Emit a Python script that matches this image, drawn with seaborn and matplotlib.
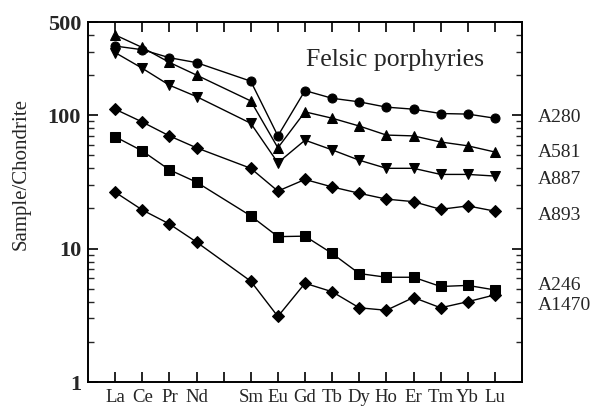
import matplotlib
matplotlib.use("Agg")
import matplotlib.pyplot as plt
import seaborn as sns
import pandas as pd
from matplotlib.ticker import FixedLocator, NullFormatter

# REE series, Pm kept for spacing but not plotted
ree_all = ['La', 'Ce', 'Pr', 'Nd', 'Pm', 'Sm', 'Eu', 'Gd', 'Tb', 'Dy', 'Ho', 'Er', 'Tm', 'Yb', 'Lu']
elements = ['La', 'Ce', 'Pr', 'Nd', 'Sm', 'Eu', 'Gd', 'Tb', 'Dy', 'Ho', 'Er', 'Tm', 'Yb', 'Lu']

a280 = [330, 310, 270, 248, 180, 70, 153, 134, 126, 115, 111, 103, 102, 95]
a581 = [400, 322, 249, 200, 128, 57, 106, 95, 83, 71, 70, 63, 59, 53]
a887 = [295, 225, 168, 138, 87, 44, 65, 55, 46, 40, 40, 36, 36, 35]
a893 = [111, 89, 70, 57, 40, 27, 33, 29, 26, 23.5, 22.5, 19.7, 20.9, 19.1]
a246 = [69, 54, 39, 31.5, 17.6, 12.3, 12.4, 9.2, 6.5, 6.1, 6.1, 5.2, 5.3, 4.9]
a1470 = [26.5, 19.5, 15.3, 11.2, 5.7, 3.1, 5.5, 4.75, 3.6, 3.45, 4.3, 3.6, 4.0, 4.5]

samples = ['A280', 'A581', 'A887', 'A893', 'A246', 'A1470']
values = [a280, a581, a887, a893, a246, a1470]
marker_map = {'A280': 'o', 'A581': '^', 'A887': 'v', 'A893': 'D', 'A246': 's', 'A1470': 'D'}
# where the sample names sit on the right (in data units)
label_y = {'A280': 96, 'A581': 53, 'A887': 33, 'A893': 17.6, 'A246': 5.3, 'A1470': 3.75}

rows = []
for name, vals in zip(samples, values):
    for el, v in zip(elements, vals):
        rows.append({'sample': name, 'element': el, 'pos': ree_all.index(el) + 1, 'value': v})
df = pd.DataFrame(rows)

sns.set_style('ticks')
plt.rcParams['font.family'] = ['Liberation Serif', 'DejaVu Serif']

fig = plt.figure(figsize=(5.92, 4.08), dpi=100)
ax = fig.add_axes([88 / 592, 1 - 382 / 408, 434 / 592, 360 / 408])

sns.lineplot(data=df, x='pos', y='value', hue='sample', style='sample',
             palette=['black'] * len(samples), markers=marker_map, dashes=False,
             markersize=6.5, linewidth=1.0, markeredgecolor='black',
             legend=False, ax=ax, sort=False)

ax.set_yscale('log')
ax.set_ylim(1, 500)
ax.set_xlim(0, 16)

ax.yaxis.set_major_locator(FixedLocator([1, 10, 100, 500]))
ax.set_yticklabels(['1', '10', '100', '500'], fontsize=16, fontweight='bold')
minors = [m * 10 ** d for d in range(0, 3) for m in range(2, 10) if m * 10 ** d < 500]
ax.yaxis.set_minor_locator(FixedLocator(minors))
ax.yaxis.set_minor_formatter(NullFormatter())

ax.xaxis.set_major_locator(FixedLocator(range(1, 16)))
ax.set_xticklabels(['' if e == 'Pm' else e for e in ree_all], fontsize=13.5)
ax.tick_params(axis='both', which='major', direction='in', length=7, width=1.2,
               top=True, right=True, color='black')
ax.tick_params(axis='y', which='minor', direction='in', length=4, width=1.0, right=True)
ax.tick_params(axis='x', which='major', pad=5)
ax.tick_params(axis='y', which='major', pad=5)

for s in ax.spines.values():
    s.set_linewidth(1.4)
    s.set_color('black')

ax.set_xlabel('')
ax.set_ylabel('')
fig.text(21 / 592, 1 - 174 / 408, 'Sample/Chondrite', rotation=90,
         fontsize=15, ha='center', va='center')

ax.text(0.707, 0.894, 'Felsic porphyries', transform=ax.transAxes,
        fontsize=18.5, ha='center', va='center')

for name in samples:
    ax.text(1.036, label_y[name], name, transform=ax.get_yaxis_transform(),
            fontsize=14, ha='left', va='center')

fig.savefig('out.png', dpi=100)
